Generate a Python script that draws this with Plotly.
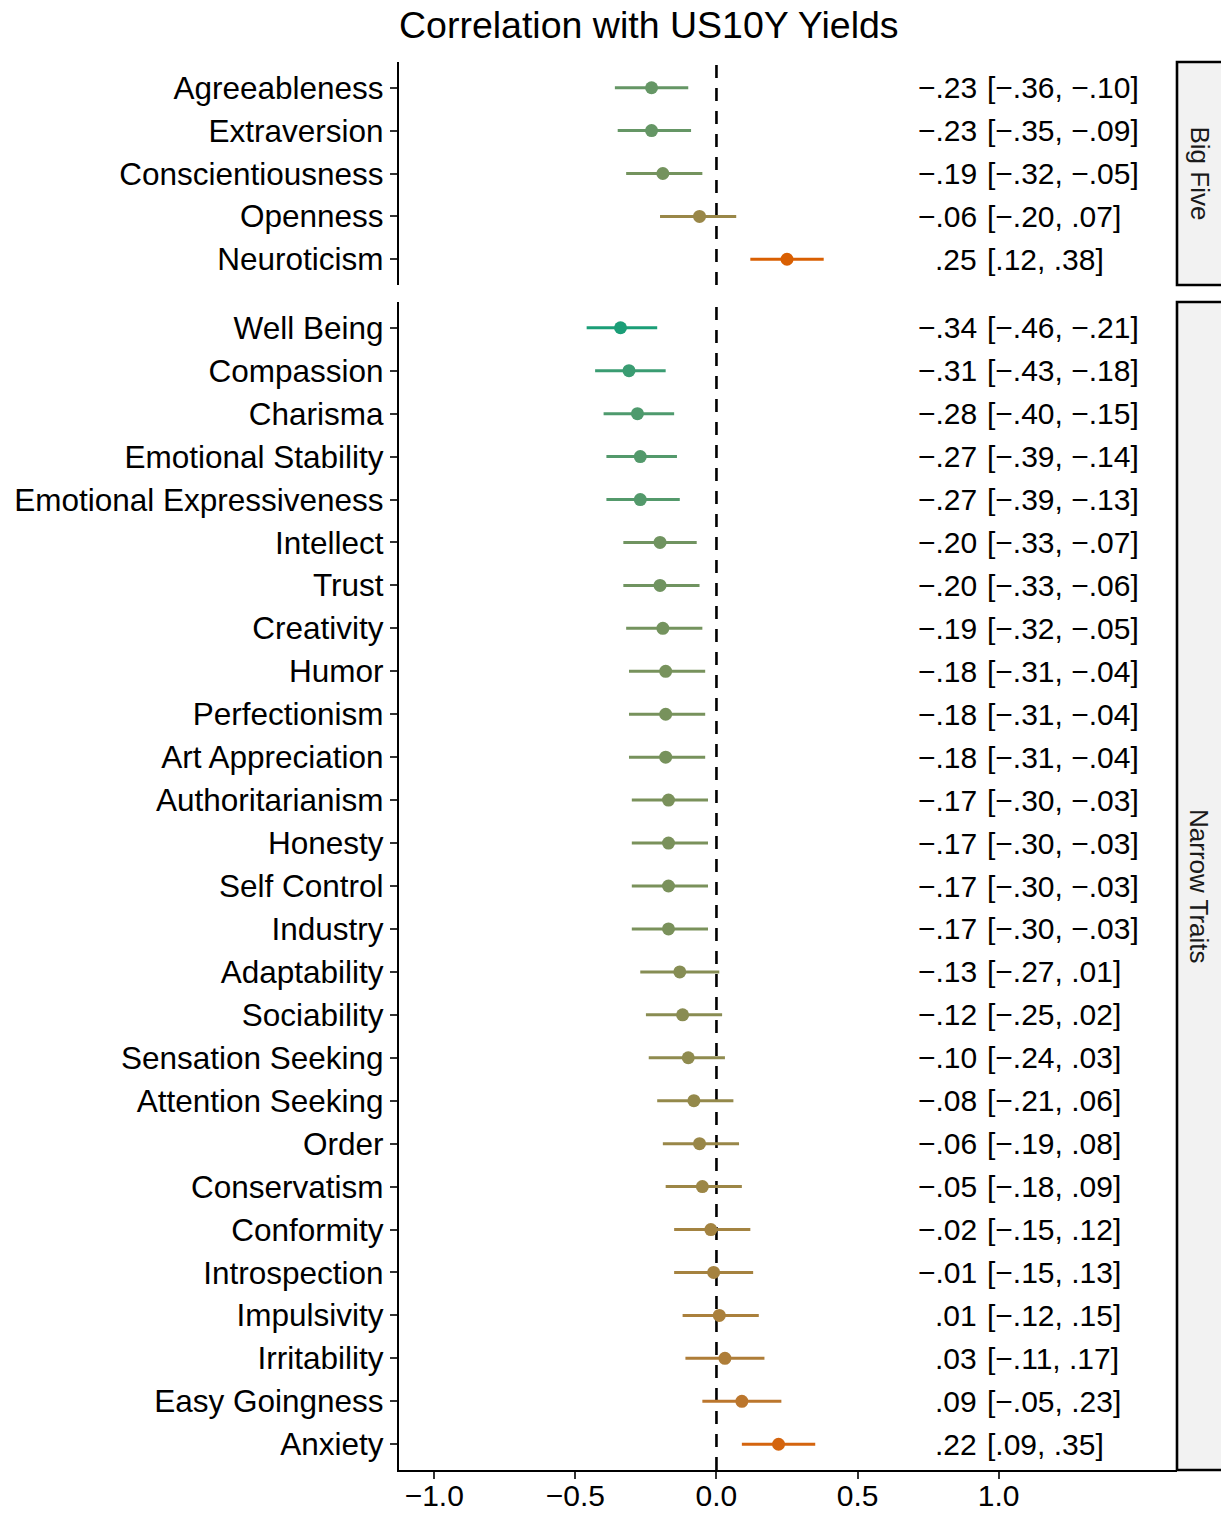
import plotly.graph_objects as go

# ---- data -------------------------------------------------------------
big_traits = ["Agreeableness", "Extraversion", "Conscientiousness", "Openness", "Neuroticism"]
big_est = [-0.23, -0.23, -0.19, -0.06, 0.25]
big_lo = [-0.36, -0.35, -0.32, -0.20, 0.12]
big_hi = [-0.10, -0.09, -0.05, 0.07, 0.38]

narrow_traits = [
    "Well Being", "Compassion", "Charisma", "Emotional Stability",
    "Emotional Expressiveness", "Intellect", "Trust", "Creativity", "Humor",
    "Perfectionism", "Art Appreciation", "Authoritarianism", "Honesty",
    "Self Control", "Industry", "Adaptability", "Sociability",
    "Sensation Seeking", "Attention Seeking", "Order", "Conservatism",
    "Conformity", "Introspection", "Impulsivity", "Irritability",
    "Easy Goingness", "Anxiety",
]
narrow_est = [-0.34, -0.31, -0.28, -0.27, -0.27, -0.20, -0.20, -0.19, -0.18,
              -0.18, -0.18, -0.17, -0.17, -0.17, -0.17, -0.13, -0.12, -0.10,
              -0.08, -0.06, -0.05, -0.02, -0.01, 0.01, 0.03, 0.09, 0.22]
narrow_lo = [-0.46, -0.43, -0.40, -0.39, -0.39, -0.33, -0.33, -0.32, -0.31,
             -0.31, -0.31, -0.30, -0.30, -0.30, -0.30, -0.27, -0.25, -0.24,
             -0.21, -0.19, -0.18, -0.15, -0.15, -0.12, -0.11, -0.05, 0.09]
narrow_hi = [-0.21, -0.18, -0.15, -0.14, -0.13, -0.07, -0.06, -0.05, -0.04,
             -0.04, -0.04, -0.03, -0.03, -0.03, -0.03, 0.01, 0.02, 0.03,
             0.06, 0.08, 0.09, 0.12, 0.13, 0.15, 0.17, 0.23, 0.35]

facet_names = ["Big Five", "Narrow Traits"]
x_ticks = [-1.0, -0.5, 0.0, 0.5, 1.0]

LOW_COL = "#1B9E77"
HIGH_COL = "#D95F02"

# ---- colour ramp in CIELAB -------------------------------------------
WHITE = (0.95047, 1.0, 1.08883)


def hex_to_lab(h):
    h = h.lstrip("#")
    rgb = [int(h[i:i + 2], 16) / 255 for i in (0, 2, 4)]
    lin = [c / 12.92 if c <= 0.04045 else ((c + 0.055) / 1.055) ** 2.4 for c in rgb]
    r, g, b = lin
    X = 0.4124564 * r + 0.3575761 * g + 0.1804375 * b
    Y = 0.2126729 * r + 0.7151522 * g + 0.0721750 * b
    Z = 0.0193339 * r + 0.1191920 * g + 0.9503041 * b

    def f(t):
        return t ** (1 / 3) if t > 216 / 24389 else (24389 / 27 * t + 16) / 116

    fx, fy, fz = f(X / WHITE[0]), f(Y / WHITE[1]), f(Z / WHITE[2])
    return (116 * fy - 16, 500 * (fx - fy), 200 * (fy - fz))


def lab_to_hex(lab):
    L, a, b = lab
    fy = (L + 16) / 116
    fx = fy + a / 500
    fz = fy - b / 200

    def finv(t):
        return t ** 3 if t ** 3 > 216 / 24389 else (116 * t - 16) / (24389 / 27)

    X, Y, Z = finv(fx) * WHITE[0], finv(fy) * WHITE[1], finv(fz) * WHITE[2]
    r = 3.2404542 * X - 1.5371385 * Y - 0.4985314 * Z
    g = -0.9692660 * X + 1.8760108 * Y + 0.0415560 * Z
    bb = 0.0556434 * X - 0.2040259 * Y + 1.0572252 * Z
    out = []
    for c in (r, g, bb):
        c = min(max(c, 0.0), 1.0)
        c = 12.92 * c if c <= 0.0031308 else 1.055 * c ** (1 / 2.4) - 0.055
        out.append(round(c * 255))
    return "#%02x%02x%02x" % tuple(out)


all_est = big_est + narrow_est
vmin, vmax = min(all_est), max(all_est)
lab_lo, lab_hi = hex_to_lab(LOW_COL), hex_to_lab(HIGH_COL)


def ramp(v):
    t = (v - vmin) / (vmax - vmin)
    return lab_to_hex(tuple(lo + t * (hi - lo) for lo, hi in zip(lab_lo, lab_hi)))


def fmt(v):
    s = f"{abs(v):.2f}".lstrip("0")
    return ("\u2212" + s) if v < 0 else s


# ---- figure -----------------------------------------------------------
W, H = 1221, 1514
M_L, M_R, M_T, M_B = 399, 44, 62, 44
plot_h = H - M_T - M_B

FONT = "Liberation Sans, Arial, Helvetica, sans-serif"

fig = go.Figure()

panels = [
    (big_traits, big_est, big_lo, big_hi, "x", "y"),
    (narrow_traits, narrow_est, narrow_lo, narrow_hi, "x2", "y2"),
]

annotations = []
for traits, est, lo, hi, xa, ya in panels:
    for name, e, l, h in zip(traits, est, lo, hi):
        col = ramp(e)
        fig.add_trace(go.Scatter(
            x=[e], y=[name], xaxis=xa, yaxis=ya, mode="markers",
            marker=dict(size=13, color=col, line=dict(width=0)),
            error_x=dict(type="data", symmetric=False,
                         array=[h - e], arrayminus=[e - l],
                         width=0, thickness=3, color=col),
            showlegend=False, hoverinfo="skip",
        ))
        annotations.append(dict(
            x=0.929, y=name, xref=xa, yref=ya, text=fmt(e),
            xanchor="right", yanchor="middle", showarrow=False,
            font=dict(size=30, color="black", family=FONT),
        ))
        annotations.append(dict(
            x=0.950, y=name, xref=xa, yref=ya,
            text=f"[{fmt(l)}, {fmt(h)}]",
            xanchor="left", yanchor="middle", showarrow=False,
            font=dict(size=30, color="black", family=FONT),
        ))

# panel extents in figure pixels -> paper fractions
top_dom = [(1470 - 285) / plot_h, 1.0]
bot_dom = [0.0, (1470 - 302) / plot_h]
x_range = [-1.125, 1.632]

y_common = dict(
    type="category", showgrid=False, zeroline=False, automargin=False,
    showline=True, linecolor="black", linewidth=2.2,
    ticks="outside", ticklen=7, tickwidth=2, tickcolor="#333333",
    tickfont=dict(size=31.5, color="black", family=FONT),
    ticklabelstandoff=0,
)

fig.update_layout(
    width=W, height=H,
    margin=dict(l=M_L, r=M_R, t=M_T, b=M_B),
    paper_bgcolor="white", plot_bgcolor="white",
    title=dict(
        text="Correlation with US10Y Yields",
        x=0, xref="paper", xanchor="left",
        y=1 - 25 / H, yref="container", yanchor="middle",
        font=dict(size=37.5, color="black", family=FONT),
        automargin=False,
    ),
    xaxis=dict(domain=[0, 1], anchor="y", range=x_range, showline=False,
               showticklabels=False, ticks="", showgrid=False, zeroline=False,
               automargin=False),
    yaxis=dict(domain=top_dom, anchor="x", categoryorder="array",
               categoryarray=big_traits,
               range=[len(big_traits) - 0.4, -0.6], **y_common),
    xaxis2=dict(domain=[0, 1], anchor="y2", range=x_range,
                tickvals=x_ticks, tickformat=".1f", automargin=False,
                showline=True, linecolor="black", linewidth=2.2,
                ticks="outside", ticklen=7, tickwidth=2, tickcolor="#333333",
                tickfont=dict(size=30, color="black", family=FONT),
                ticklabelstandoff=-9,
                showgrid=False, zeroline=False),
    yaxis2=dict(domain=bot_dom, anchor="x2", categoryorder="array",
                categoryarray=narrow_traits,
                range=[len(narrow_traits) - 0.4, -0.6], **y_common),
    annotations=annotations,
)

# dashed reference line at zero in each panel
for xa, yd in (("x", "y domain"), ("x2", "y2 domain")):
    fig.add_shape(type="line", xref=xa, yref=yd, x0=0, x1=0, y0=0, y1=1,
                  line=dict(color="black", width=2.6, dash="13px,10px"),
                  layer="below")

# facet strips on the right
plot_w = W - M_L - M_R
for label, dom in zip(facet_names, (top_dom, bot_dom)):
    fig.add_shape(type="rect", xref="paper", yref="paper",
                  x0=(1177 - M_L) / plot_w, x1=(1240 - M_L) / plot_w,
                  y0=dom[0], y1=dom[1],
                  line=dict(color="black", width=2.6), fillcolor="#f2f2f2")
    fig.add_annotation(x=(1199 - M_L) / plot_w, y=(dom[0] + dom[1]) / 2,
                       xref="paper", yref="paper", text=label, textangle=90,
                       showarrow=False, xanchor="center", yanchor="middle",
                       font=dict(size=26, color="#1a1a1a", family=FONT))

fig.write_html("out.html")
